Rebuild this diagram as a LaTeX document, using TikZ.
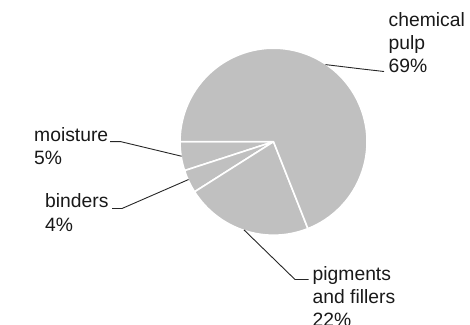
\documentclass[tikz,border=0pt]{standalone}
\usepackage{fontspec}
\setmainfont{Liberation Sans}
\usepackage{xcolor}
\usetikzlibrary{calc}
\definecolor{piegray}{HTML}{C0C0C0}

\tikzset{
  slice/.style={fill=piegray, draw=white, line width=1.6pt, line join=round},
  leader/.style={draw=black!85, line width=0.9pt},
  lbl/.style={inner sep=0pt, anchor=base west, align=left, text=black!90,
    font=\fontsize{19.3}{23}\selectfont}
}

\begin{document}
\begin{tikzpicture}[x=1pt,y=1pt]
\useasboundingbox (0,0) rectangle (470,324);
\coordinate (c) at (273.5,182.3);

% pie slices (moisture, binders, pigments, pulp)
\foreach \a/\b in {180/198, 198/212.4, 212.4/291.6, 291.6/540}
  \filldraw[slice] (c) -- ++(\a:93.5) arc (\a:\b:93.5) -- cycle;

% labels, placed by the baseline of their last line
\node (pulp) at (388.5,251.3) [lbl] {chemical\\pulp\\69\%};
\node (moist) at (34,159) [lbl] {moisture\\5\%};
\node (bind) at (45,93) [lbl] {binders\\4\%};
\node (pigm) at (312.5,-2.5) [lbl] {pigments\\and fillers\\22\%};

\coordinate (pulpedge) at ($(c)+(56:93)$);
\coordinate (moistedge) at ($(c)+(189:93)$);
\coordinate (bindedge) at ($(c)+(204:93)$);
\coordinate (pigmedge) at ($(c)+(251.5:93)$);

\coordinate (pulpend) at (384,252.5);
\coordinate (moiststart) at (110,182.3);
\coordinate (bindstart) at (112,115.5);
\coordinate (pigmbend) at (295,44.5);
\coordinate (pigmend) at (308.5,44.5);

\draw[leader] (pulpedge) -- (362,255) -- (pulpend);
\draw[leader] (moiststart) -- (121,182.3) -- (moistedge);
\draw[leader] (bindstart) -- (122,115.5) -- (bindedge);
\draw[leader] (pigmedge) -- (pigmbend) -- (pigmend);
\end{tikzpicture}
\end{document}
